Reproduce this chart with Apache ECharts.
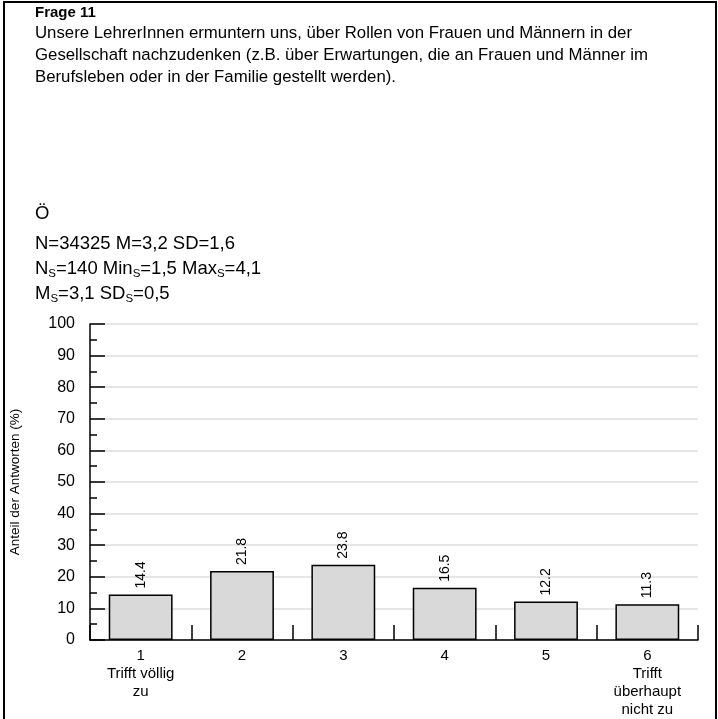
<!DOCTYPE html>
<html><head><meta charset="utf-8">
<script src="https://cdn.jsdelivr.net/npm/echarts@6/dist/echarts.min.js"></script>
<style>html,body{margin:0;padding:0;background:#fff}#c{width:718px;height:719px}</style>
</head><body><div id="c"></div>
<script>
const categories = ['1\nTrifft völlig\nzu', '2', '3', '4', '5', '6\nTrifft\nüberhaupt\nnicht zu'];
const values = [14.4, 21.8, 23.8, 16.5, 12.2, 11.3];
const yMin = 0, yMax = 100, yStep = 10;
const yAxisTitle = 'Anteil der Antworten (%)';
const questionTitle = 'Frage 11';
const questionLines = [
  'Unsere LehrerInnen ermuntern uns, über Rollen von Frauen und Männern in der',
  'Gesellschaft nachzudenken (z.B. über Erwartungen, die an Frauen und Männer im',
  'Berufsleben oder in der Familie gestellt werden).'
];
const groupLabel = 'Ö';
const statsLines = [
  '{n|N=34325 M=3,2 SD=1,6}',
  '{n|N}{s|S}{n|=140 Min}{s|S}{n|=1,5 Max}{s|S}{n|=4,1}',
  '{n|M}{s|S}{n|=3,1 SD}{s|S}{n|=0,5}'
];

const FONT = '"Liberation Sans", Arial, sans-serif';
const chart = echarts.init(document.getElementById('c'), null, {renderer: 'canvas'});

const graphics = [
  {type: 'rect', shape: {x: 4, y: 2, width: 712, height: 740}, style: {fill: 'none', stroke: '#000', lineWidth: 2}, z: 100},
  {type: 'text', x: 35, y: 13, style: {text: questionTitle, fontFamily: FONT, fontSize: 15, fontWeight: 'bold', fill: '#000', verticalAlign: 'middle'}}
];
questionLines.forEach((t, i) => graphics.push({type: 'text', x: 35, y: 33 + i * 22, style: {text: t, fontFamily: FONT, fontSize: 16.8, fill: '#000', verticalAlign: 'middle'}}));
graphics.push({type: 'text', x: 35, y: 214, style: {text: groupLabel, fontFamily: FONT, fontSize: 18.5, fill: '#000', verticalAlign: 'middle'}});
const statsY = [244, 269, 294];
statsLines.forEach((t, i) => graphics.push({type: 'text', x: 35, y: statsY[i], style: {
  text: t, fontFamily: FONT, fill: '#000', verticalAlign: 'middle',
  rich: {
    n: {fontFamily: FONT, fontSize: 18.5, lineHeight: 22, verticalAlign: 'middle'},
    s: {fontFamily: FONT, fontSize: 11.5, lineHeight: 22, verticalAlign: 'bottom'}
  }
}}));

chart.setOption({
  animation: false,
  backgroundColor: '#fff',
  graphic: graphics,
  grid: {left: 86, right: 20, top: 324, bottom: 78, containLabel: false},
  xAxis: {
    type: 'category',
    data: categories,
    axisLine: {lineStyle: {color: '#000', width: 1.5}},
    axisTick: {show: true, inside: true, length: 15, alignWithLabel: false, lineStyle: {color: '#000', width: 1.5}},
    axisLabel: {color: '#000', fontFamily: FONT, fontSize: 15, lineHeight: 18, margin: 7, interval: 0}
  },
  yAxis: {
    type: 'value', min: yMin, max: yMax, interval: yStep,
    name: yAxisTitle, nameLocation: 'middle', nameRotate: 90, nameGap: 68,
    nameTextStyle: {color: '#000', fontFamily: FONT, fontSize: 13.5},
    axisLine: {show: true, lineStyle: {color: '#000', width: 1.5}},
    axisTick: {show: true, inside: true, length: 15, lineStyle: {color: '#000', width: 1.5}},
    minorTick: {show: true, splitNumber: 2, length: 7, lineStyle: {color: '#000', width: 1.5}},
    axisLabel: {color: '#000', fontFamily: FONT, fontSize: 16, margin: 15},
    splitLine: {show: true, lineStyle: {color: '#dedede', width: 1.5}}
  },
  series: [{
    type: 'bar',
    data: values,
    barWidth: '63%',
    itemStyle: {color: '#d9d9d9', borderColor: '#000', borderWidth: 1.5},
    label: {
      show: true, position: 'top', rotate: 90, align: 'left', verticalAlign: 'middle', distance: 6,
      color: '#000', fontFamily: FONT, fontSize: 14,
      formatter: p => p.value.toFixed(1)
    }
  }]
});
</script></body></html>
